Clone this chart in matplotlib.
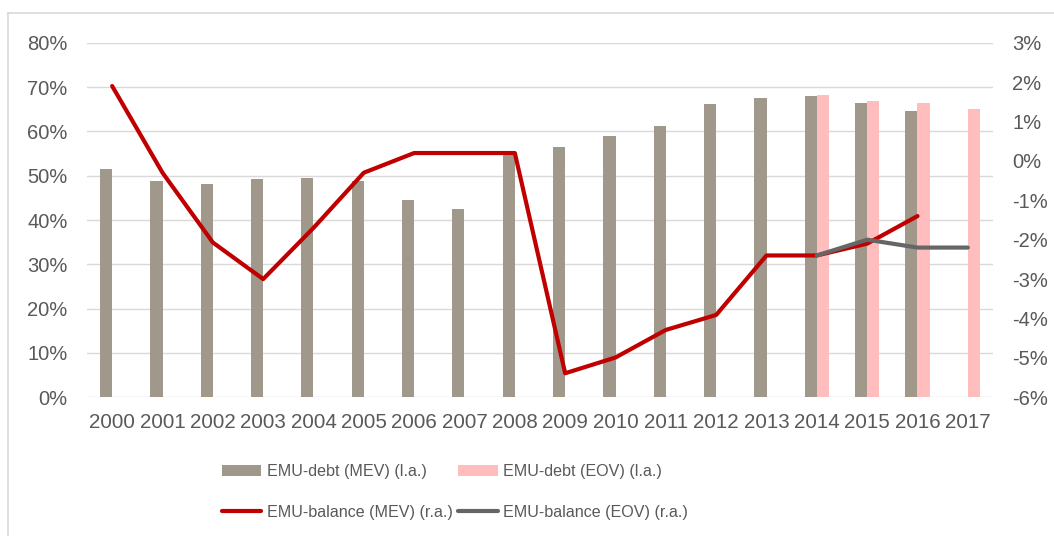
import numpy as np
import matplotlib
matplotlib.use("Agg")
import matplotlib.pyplot as plt
from matplotlib.lines import Line2D
from matplotlib.ticker import FuncFormatter

plt.rcParams["font.family"] = ["Liberation Sans", "DejaVu Sans"]

years = [str(y) for y in range(2000, 2018)]
nan = np.nan
debt_mev = [51.5, 48.7, 48.1, 49.3, 49.5, 48.9, 44.5, 42.4, 54.9, 56.4,
            59.0, 61.2, 66.2, 67.6, 67.9, 66.4, 64.6, nan]
debt_eov = [nan] * 14 + [68.2, 66.9, 66.4, 65.1]
bal_mev = [1.9, -0.3, -2.07, -3.0, -1.7, -0.3, 0.2, 0.2, 0.2, -5.39,
           -4.99, -4.29, -3.91, -2.4, -2.4, -2.1, -1.4, nan]
bal_eov = [nan] * 14 + [-2.4, -2.0, -2.2, -2.2]

c_mev_bar = "#A0988A"
c_eov_bar = "#FFBDBD"
c_mev_line = "#C00000"
c_eov_line = "#666666"
txt = "#595959"
grid = "#D9D9D9"

fig = plt.figure(figsize=(10.54, 5.36), dpi=100)
ax = fig.add_axes([87 / 1054, 1 - 397.3 / 536, (993 - 87) / 1054, (397.3 - 42.7) / 536])
ax2 = ax.twinx()

x = np.arange(len(years))
w = 0.24
ax.bar(x - w / 2, debt_mev, w, color=c_mev_bar, label="EMU-debt (MEV) (l.a.)", zorder=2)
ax.bar(x + w / 2, debt_eov, w, color=c_eov_bar, label="EMU-debt (EOV) (l.a.)", zorder=2)
ax2.plot(x, bal_mev, color=c_mev_line, lw=3.0, solid_capstyle="round",
         label="EMU-balance (MEV) (r.a.)", zorder=3)
ax2.plot(x, bal_eov, color=c_eov_line, lw=3.0, solid_capstyle="round",
         label="EMU-balance (EOV) (r.a.)", zorder=4)

ax.set_xlim(-0.5, len(years) - 0.5)
ax.set_ylim(0, 80)
ax.set_yticks(range(0, 81, 10))
ax.yaxis.set_major_formatter(FuncFormatter(lambda v, p: f"{v:.0f}%"))
ax2.set_ylim(-6, 3)
ax2.set_yticks(range(-6, 4))
ax2.yaxis.set_major_formatter(FuncFormatter(lambda v, p: f"{v:.0f}%"))
ax.set_xticks(x)
ax.set_xticklabels(years)

ax.grid(axis="y", color=grid, lw=1, zorder=0)
ax.set_axisbelow(True)
for a in (ax, ax2):
    for s in a.spines.values():
        s.set_visible(False)
    a.tick_params(length=0, labelsize=14.5, colors=txt)
ax.tick_params(axis="x", labelsize=14.8, pad=11)
ax.tick_params(axis="y", pad=14)
ax2.tick_params(axis="y", pad=14)

h1, l1 = ax.get_legend_handles_labels()
h2, l2 = ax2.get_legend_handles_labels()
handles = [h1[0], h2[0], h1[1], h2[1]]
labels = [l1[0], l2[0], l1[1], l2[1]]
leg = fig.legend(handles, labels, ncol=2, loc="center", bbox_to_anchor=(455 / 1054, 1 - 492 / 536),
                 frameon=False, fontsize=11.6, handlelength=2.45, handletextpad=0.35,
                 columnspacing=0.35, labelspacing=1.6)
for t in leg.get_texts():
    t.set_color(txt)

# chart frame
fig.add_artist(Line2D([8 / 1054, 8 / 1054], [0, 1 - 13 / 536], color=grid, lw=1.2))
fig.add_artist(Line2D([8 / 1054, 1], [1 - 13 / 536, 1 - 13 / 536], color=grid, lw=1.2))

fig.savefig("out.png", dpi=100)
